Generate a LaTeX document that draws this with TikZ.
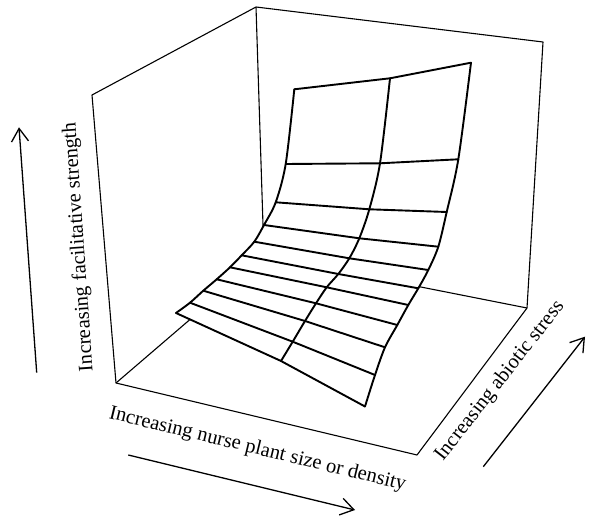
\documentclass[tikz,border=0pt]{standalone}
\usepackage{fontspec}
\setmainfont{Liberation Serif}
\newfontfamily\timesfam{Liberation Serif}
\usetikzlibrary{arrows.meta}
\begin{document}
\begin{tikzpicture}[x=1pt,y=-1pt,
  boxline/.style={line width=1.1pt, line join=round},
  gridline/.style={line width=1.9pt, line join=round, line cap=round},
  axisarrow/.style={line width=1.3pt, -{Straight Barb[length=13pt,width=17pt]}},
  axislabel/.style={font=\timesfam\fontsize{20.5}{24}\selectfont, inner sep=0pt}]
\useasboundingbox (0,0) rectangle (589,518);
% box corners
\coordinate (TL) at (92,95);
\coordinate (BL) at (116,383);
\coordinate (TB) at (256,7);
\coordinate (BB) at (264,256);
\coordinate (TR) at (543,42);
\coordinate (BR) at (527,308);
\coordinate (FR) at (417,455);
% box
\draw[boxline] (BL) -- (TL) -- (TB) -- (TR) -- (BR) -- (FR) -- cycle;
\draw[boxline] (TB) -- (BB);
\draw[boxline] (BL) -- (BB) -- (BR);
% surface grid points
\coordinate (L1) at (294.3,89.3);  \coordinate (M1) at (390,78.3);   \coordinate (R1) at (471,62.7);
\coordinate (L2) at (285.7,164);   \coordinate (M2) at (380,163.3);  \coordinate (R2) at (458.3,159.3);
\coordinate (L3) at (275.7,202.3); \coordinate (M3) at (369.3,209.3);\coordinate (R3) at (446.7,212);
\coordinate (L4) at (264,225);     \coordinate (M4) at (359.3,238.3);\coordinate (R4) at (438.3,246.7);
\coordinate (L5) at (254.3,241.7); \coordinate (M5) at (349.3,258.3);\coordinate (R5) at (428.3,270);
\coordinate (L6) at (241.7,255.3); \coordinate (M6) at (338.3,274);  \coordinate (R6) at (418.3,288.3);
\coordinate (L7) at (230,267.3);   \coordinate (M7) at (326.7,287.3);\coordinate (R7) at (408.3,305);
\coordinate (L8) at (216.7,279.3); \coordinate (M8) at (316,303.3);  \coordinate (R8) at (397.3,325);
\coordinate (L9) at (203.3,290.7); \coordinate (M9) at (305,321);    \coordinate (R9) at (385,347.3);
\coordinate (L10) at (190,302.7);  \coordinate (M10) at (292.7,341.7);\coordinate (R10) at (375,375);
\coordinate (L11) at (176,313);    \coordinate (M11) at (281,361);   \coordinate (R11) at (365,406.5);
% hide box behind surface
\fill[white] plot[smooth] coordinates {(L1) (L2) (L3) (L4) (L5) (L6) (L7) (L8) (L9) (L10) (L11)}
  -- (M11) -- (R11)
  -- plot[smooth] coordinates {(R11) (R10) (R9) (R8) (R7) (R6) (R5) (R4) (R3) (R2) (R1)}
  -- (M1) -- cycle;
% surface edges
\draw[gridline] plot[smooth] coordinates {(L1) (L2) (L3) (L4) (L5) (L6) (L7) (L8) (L9) (L10) (L11)};
\draw[gridline] plot[smooth] coordinates {(M1) (M2) (M3) (M4) (M5) (M6) (M7) (M8) (M9) (M10) (M11)};
\draw[gridline] plot[smooth] coordinates {(R1) (R2) (R3) (R4) (R5) (R6) (R7) (R8) (R9) (R10) (R11)};
\foreach \i in {1,...,11} { \draw[gridline] (L\i) -- (M\i) -- (R\i); }
% axis labels
\node[axislabel, rotate=94] (lblF) at (79,247) {Increasing facilitative strength};
\node[axislabel, rotate=-13.7] (lblN) at (257.5,449.5) {Increasing nurse plant size or density};
\node[axislabel, rotate=52] (lblA) at (500,381) {Increasing abiotic stress};
% axis arrows
\coordinate (aF0) at (36.7,372.7); \coordinate (aF1) at (19,127.3);
\coordinate (aN0) at (128.3,455);  \coordinate (aN1) at (355,510);
\coordinate (aA0) at (483.3,466.7);\coordinate (aA1) at (585,336.7);
\draw[axisarrow] (aF0) -- (aF1);
\draw[axisarrow] (aN0) -- (aN1);
\draw[axisarrow] (aA0) -- (aA1);
\end{tikzpicture}
\end{document}
